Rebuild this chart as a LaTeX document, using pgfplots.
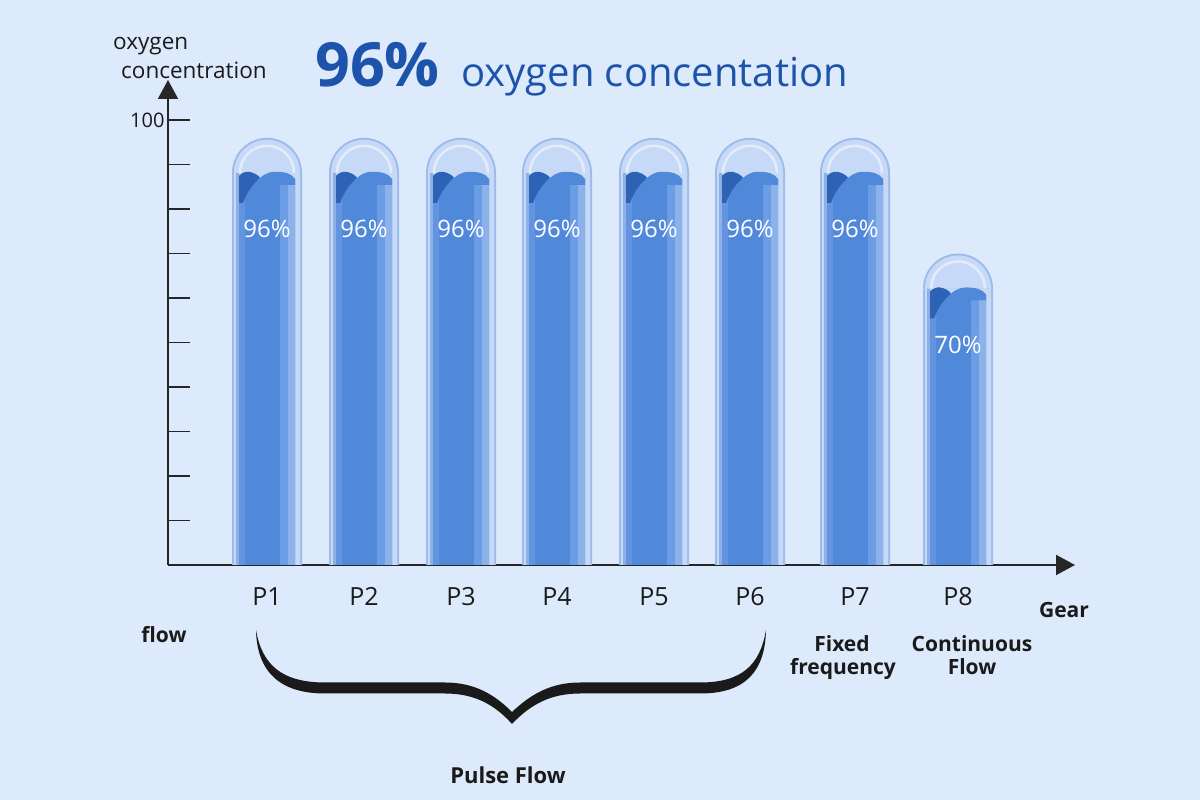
\documentclass[border=0pt]{standalone}
\usepackage{pgfplots}
\pgfplotsset{compat=1.18}
\usepackage{pgfplotstable}
\usepackage{fontspec}
\setmainfont{Open Sans}
\usetikzlibrary{arrows.meta}
\definecolor{bgcol}{HTML}{DCEAFB}
\definecolor{axiscol}{HTML}{262626}
\definecolor{txt}{HTML}{1A1A1A}
\definecolor{titleblue}{HTML}{1D53AB}
\definecolor{tubeedge}{HTML}{9DBBEB}
\definecolor{glass}{HTML}{C6DAF7}
\definecolor{liqM}{HTML}{5088DA}
\definecolor{liqL}{HTML}{6394DF}
\definecolor{liqR}{HTML}{8DB2EA}
\definecolor{liqR2}{HTML}{6C9CE3}
\definecolor{liqD}{HTML}{2D62B5}
\definecolor{edgeM}{HTML}{8EB0E6}
\newcommand{\fs}[1]{\fontsize{#1}{#1}\selectfont}
\pgfdeclareplotmark{capO}{%
  \pgfsetfillcolor{tubeedge}%
  \pgfpathmoveto{\pgfpoint{-35pt}{0pt}}\pgfpatharc{180}{0}{35pt}\pgfpathclose\pgfusepath{fill}}
\pgfdeclareplotmark{capI}{%
  \pgfsetfillcolor{glass}%
  \pgfpathmoveto{\pgfpoint{-33pt}{0pt}}\pgfpatharc{180}{0}{33pt}\pgfpathclose\pgfusepath{fill}%
  \pgfsetstrokecolor{white}\pgfsetstrokeopacity{0.5}\pgfsetlinewidth{2.5pt}%
  \pgfpathmoveto{\pgfpoint{-27pt}{0pt}}\pgfpatharc{180}{0}{27pt}\pgfusepath{stroke}}
\pgfdeclareplotmark{wave}{%
  \pgfsetfillcolor{liqM}%
  \pgfpathmoveto{\pgfpoint{-12pt}{-5pt}}%
  \pgfpathcurveto{\pgfpoint{-6pt}{3pt}}{\pgfpoint{0pt}{7pt}}{\pgfpoint{8pt}{7pt}}%
  \pgfpathcurveto{\pgfpoint{16pt}{7pt}}{\pgfpoint{24pt}{6pt}}{\pgfpoint{28pt}{0pt}}%
  \pgfpathlineto{\pgfpoint{28pt}{-6pt}}%
  \pgfpathlineto{\pgfpoint{-12pt}{-6pt}}%
  \pgfpathclose\pgfusepath{fill}%
  \pgfsetfillcolor{liqD}%
  \pgfpathmoveto{\pgfpoint{-28pt}{-24pt}}%
  \pgfpathlineto{\pgfpoint{-28pt}{3pt}}%
  \pgfpathcurveto{\pgfpoint{-25pt}{6pt}}{\pgfpoint{-21pt}{7.5pt}}{\pgfpoint{-18pt}{7pt}}%
  \pgfpathcurveto{\pgfpoint{-13pt}{6pt}}{\pgfpoint{-9pt}{4pt}}{\pgfpoint{-7pt}{1pt}}%
  \pgfpathcurveto{\pgfpoint{-14pt}{-5pt}}{\pgfpoint{-20pt}{-13pt}}{\pgfpoint{-24pt}{-24pt}}%
  \pgfpathclose\pgfusepath{fill}}
\pgfplotstableread{
x v
267 96
364 96
461 96
557 96
654 96
750 96
855 96
958 70
}\data
\begin{document}
\begin{tikzpicture}
\fill[bgcol] (0,0) rectangle (1200pt,800pt);
\begin{axis}[
  at={(168pt,235pt)}, anchor=south west,
  width=907pt, height=485pt, scale only axis,
  xmin=168, xmax=1075, ymin=0, ymax=109,
  axis x line=bottom, axis y line=left,
  axis line style={line width=2pt, draw=axiscol, -{Triangle[length=19pt,width=20pt]}},
  xtick={267,364,461,557,654,750,855,958},
  xticklabels={P1,P2,P3,P4,P5,P6,P7,P8},
  xtick style={draw=none},
  xticklabel style={font=\fs{25}, text=txt, anchor=base, yshift=-41pt, inner sep=0pt},
  ytick={10,20,...,100},
  yticklabels={,,,,,,,,,100},
  yticklabel style={font=\fs{20}, text=txt},
  ytick style={line width=1.3pt, draw=axiscol},
  major tick length=22pt, tick align=inside,
  /pgf/number format/assume math mode=true,
  clip=false,
]
% tube outer edge and glass
\addplot[ybar, bar shift=0pt, bar width=70pt, fill=tubeedge, draw=none] table[x=x, y expr=\thisrow{v}-7.865] {\data};
\addplot[only marks, mark=capO] table[x=x, y expr=\thisrow{v}-7.865] {\data};
\addplot[ybar, bar shift=0pt, bar width=66pt, fill=glass, draw=none] table[x=x, y expr=\thisrow{v}-7.865] {\data};
\addplot[only marks, mark=capI] table[x=x, y expr=\thisrow{v}-7.865] {\data};
% glass inner stripe at left
\addplot[ybar, bar shift=-29.5pt, bar width=3pt, fill=edgeM, draw=none] table[x=x, y expr=\thisrow{v}-7.865] {\data};
% liquid
\addplot[ybar, bar shift=0pt, bar width=56pt, fill=liqM, draw=none] table[x=x, y expr=\thisrow{v}-9.2] {\data};
\addplot[ybar, bar shift=-25pt, bar width=6pt, fill=liqL, draw=none] table[x=x, y expr=\thisrow{v}-9.2] {\data};
\addplot[ybar, bar shift=17pt, bar width=8pt, fill=liqR2, draw=none] table[x=x, y expr=\thisrow{v}-9.2] {\data};
\addplot[ybar, bar shift=24.5pt, bar width=7pt, fill=liqR, draw=none] table[x=x, y expr=\thisrow{v}-9.2] {\data};
\addplot[only marks, mark=wave] table[x=x, y expr=\thisrow{v}-9.2] {\data};
\addplot[draw=none, mark=none, point meta=explicit,
  nodes near coords={\pgfmathprintnumber{\pgfplotspointmeta}\%},
  every node near coord/.append style={font=\fs{24}, text=white, anchor=center, yshift=-50pt}]
  table[x=x, y expr=\thisrow{v}-9.2, meta=v] {\data};
\end{axis}
\begin{scope}[x=1pt,y=1pt]
\node[anchor=base west, inner sep=0pt, font=\fs{22.5}, text=txt] at (113,750) {oxygen};
\node[anchor=base west, inner sep=0pt, font=\fs{22.5}, text=txt] at (121,721) {concentration};
\node[anchor=base west, inner sep=0pt, font=\bfseries\fs{61}, text=titleblue] at (315,713) {96\%};
\node[anchor=base west, inner sep=0pt, font=\fs{40}, text=titleblue] at (461,713) {oxygen concentation};
\node[anchor=base, inner sep=0pt, font=\bfseries\fs{21}, text=txt] at (1064,182) {Gear};
\node[anchor=base, inner sep=0pt, font=\bfseries\fs{21}, text=txt] at (164,157) {flow};
\node[anchor=base, inner sep=0pt, font=\bfseries\fs{21}, text=txt] at (842,148) {Fixed};
\node[anchor=base, inner sep=0pt, font=\bfseries\fs{21}, text=txt] at (843,125) {frequency};
\node[anchor=base, inner sep=0pt, font=\bfseries\fs{21}, text=txt] at (972,148) {Continuous};
\node[anchor=base, inner sep=0pt, font=\bfseries\fs{21}, text=txt] at (972,125) {Flow};
\node[anchor=base, inner sep=0pt, font=\bfseries\fs{22}, text=txt] at (508,16) {Pulse Flow};
\fill[txt] (256,170) .. controls (257,128) and (280,106.5) .. (325,106.5) -- (445,106.5)
  .. controls (475,106.5) and (495,95) .. (512,76)
  .. controls (530,95) and (550,106.5) .. (580,106.5) -- (700,106.5)
  .. controls (745,106.5) and (765,128) .. (766,170)
  .. controls (760,135) and (742,117.5) .. (700,117.5) -- (580,117.5)
  .. controls (550,117.5) and (530,105) .. (512,88)
  .. controls (495,105) and (475,117.5) .. (445,117.5) -- (325,117.5)
  .. controls (282,117.5) and (262,135) .. (256,170) -- cycle;
\end{scope}
\end{tikzpicture}
\end{document}
